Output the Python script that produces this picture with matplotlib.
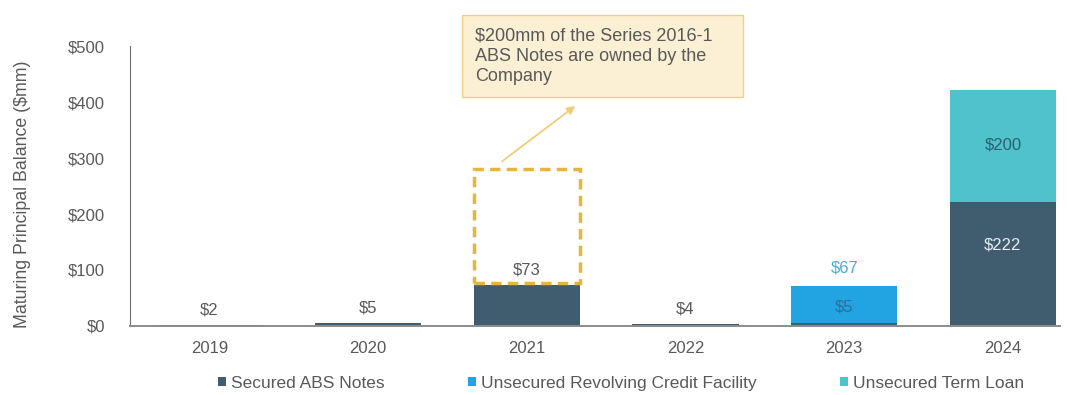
import numpy as np
import matplotlib
matplotlib.use('Agg')
from matplotlib import pyplot as plt
from matplotlib.patches import Rectangle

plt.rcParams['font.family'] = ['Liberation Sans', 'DejaVu Sans']

# Maturities by year ($mm)
years = ['2019', '2020', '2021', '2022', '2023', '2024']
secured_abs = [2, 5, 73, 4, 5, 222]
revolving = [0, 0, 0, 0, 67, 0]
term_loan = [0, 0, 0, 0, 0, 200]
company_owned = 200  # part of the 2021 ABS notes held by the company

c_sec = '#405c6f'
c_rev = '#22a3e2'
c_term = '#4ec3cb'
c_text = '#595959'

fig = plt.figure(figsize=(10.67, 3.95), dpi=100)
ax = fig.add_axes([0.1218, 0.1747, 0.8716, 0.7088])

x = np.arange(len(years))
w = 0.67
sec = np.array(secured_abs)
rev = np.array(revolving)
term = np.array(term_loan)

ax.bar(x, sec, w, color=c_sec, label='Secured ABS Notes')
ax.bar(x, rev, w, bottom=sec, color=c_rev, label='Unsecured Revolving Credit Facility')
ax.bar(x, term, w, bottom=sec + rev, color=c_term, label='Unsecured Term Loan')

fs = 12
# value labels
for i in range(len(years)):
    if rev[i] == 0 and term[i] == 0:
        ax.text(x[i], sec[i] + 27, '$%d' % sec[i], ha='center', va='center',
                fontsize=fs, color=c_text)
i = 4
ax.text(x[i], 34, '$%d' % sec[i], ha='center', va='center', fontsize=fs, color='#2f6f99')
ax.text(x[i], sec[i] + rev[i] + 31, '$%d' % rev[i], ha='center', va='center',
        fontsize=fs, color='#4aaad6')
i = 5
ax.text(x[i], 145, '$%d' % sec[i], ha='center', va='center', fontsize=fs, color='#e8eef2')
ax.text(x[i], 323, '$%d' % term[i], ha='center', va='center', fontsize=fs, color='#2f5f70')

# dashed outline for the company-owned notes
i = 2
ax.add_patch(Rectangle((x[i] - w / 2, sec[i] + 3), w, company_owned + 5, fill=False,
                       edgecolor='#e6b53c', lw=2.5, ls=(0, (3, 1.8))))

ax.annotate('', xy=(2.32, 396), xytext=(1.83, 291),
            arrowprops=dict(arrowstyle='-|>', color='#edcf7a', lw=1.3, mutation_scale=12))

# callout box
fig.patches.append(Rectangle((0.433, 0.7544), 0.2634, 0.2076, transform=fig.transFigure,
                             fc='#fcf0d4', ec='#f0d27e', lw=1))
fig.text(0.445, 0.858, '$200mm of the Series 2016-1\nABS Notes are owned by the\nCompany',
         ha='left', va='center', fontsize=13, color=c_text, linespacing=1.25)

ax.set_xlim(-0.501, 5.36)
ax.set_ylim(0, 500)
ax.set_yticks(range(0, 501, 100))
ax.set_yticklabels(['$%d' % v for v in range(0, 501, 100)])
ax.set_xticks(x)
ax.set_xticklabels(years)
ax.tick_params(axis='both', length=0, labelsize=fs, colors=c_text)
ax.tick_params(axis='y', pad=18)
ax.tick_params(axis='x', pad=11)
ax.set_ylabel('Maturing Principal Balance ($mm)', fontsize=12.8, color=c_text)
ax.yaxis.set_label_coords(-0.106, 0.47)
for s in ['top', 'right']:
    ax.spines[s].set_visible(False)
ax.spines['left'].set_color('#6f6f6f')
ax.spines['bottom'].set_color('#8c8c8c')
ax.spines['bottom'].set_linewidth(1.4)

leg = fig.legend(loc='center', bbox_to_anchor=(0.5825, 0.03), ncol=3, frameon=False,
                 fontsize=12.5, handlelength=0.45, handleheight=0.45, handletextpad=0.3,
                 columnspacing=4.8)
for t in leg.get_texts():
    t.set_color(c_text)

fig.savefig('out.png', dpi=100, facecolor='white')
